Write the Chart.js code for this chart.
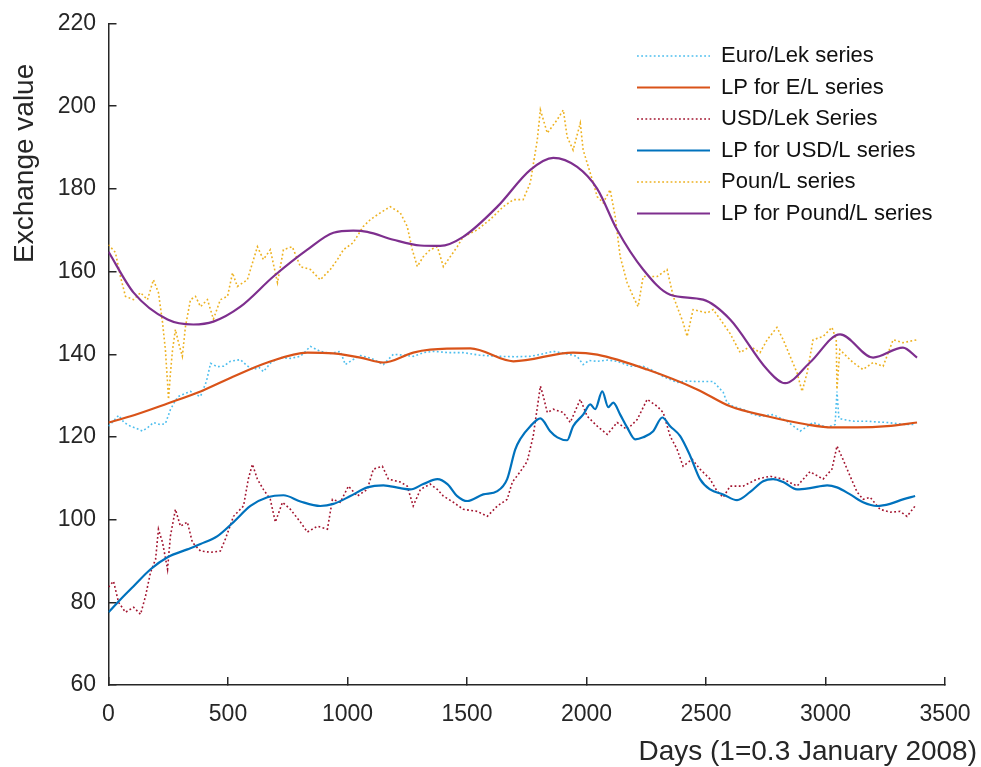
<!DOCTYPE html>
<html>
<head>
<meta charset="utf-8">
<title>Exchange value</title>
<script src="https://cdn.jsdelivr.net/npm/chart.js@4.4.1/dist/chart.umd.min.js"></script>
<style>
  html, body { margin: 0; padding: 0; background: #fff; }
  canvas { display: block; }
</style>
</head>
<body>
<canvas id="grafico" width="981" height="767"></canvas>
<script>
// Euro / Lek, daily series
const euroDays = [
  0, 20, 42, 65, 92, 120, 142, 165, 188, 215,
  238, 259, 280, 293, 320, 343, 365, 385, 410, 427,
  455, 481, 510, 552, 580, 606, 630, 648, 680, 719,
  760, 803, 845, 886, 930, 970, 991, 1020, 1054, 1100,
  1150, 1192, 1230, 1275, 1320, 1359, 1420, 1484, 1550, 1627,
  1700, 1765, 1810, 1861, 1910, 1961, 1986, 2010, 2045, 2090,
  2128, 2183, 2237, 2280, 2321, 2379, 2420, 2463, 2530, 2572,
  2588, 2613, 2655, 2690, 2726, 2781, 2839, 2894, 2948, 3007,
  3040, 3048, 3056, 3073, 3120, 3174, 3220, 3258, 3300, 3341,
  3375
];
const euroRate = [
  122.6, 123.8, 125.2, 123.5, 122.6, 122.0, 121.4, 122.3, 123.5, 123.0,
  123.2, 126.6, 128.8, 129.8, 130.5, 131.0, 130.2, 129.8, 133.5, 137.8,
  137.0, 137.1, 138.3, 138.7, 137.2, 136.3, 136.8, 135.8, 138.0, 139.2,
  139.0, 139.5, 141.9, 140.7, 140.2, 140.7, 137.5, 138.6, 139.7, 139.0,
  137.5, 140.0, 139.8, 139.5, 140.4, 140.7, 140.4, 140.4, 139.8, 139.5,
  139.4, 139.5, 140.0, 140.7, 140.2, 139.5, 137.5, 138.5, 138.3, 138.6,
  138.3, 137.1, 137.1, 136.0, 134.6, 133.2, 133.5, 133.4, 133.4, 130.8,
  128.3, 127.4, 126.7, 125.6, 125.0, 125.4, 123.8, 121.4, 123.5, 122.3,
  123.0, 131.0, 124.5, 124.2, 123.8, 123.8, 123.6, 123.5, 123.2, 123.0,
  123.0
];

// Euro / Lek, low-pass filtered
const euroLpDays = [0, 92, 247, 385, 523, 665, 832, 941, 1054, 1150, 1275, 1346, 1514,
  1694, 1944, 2045, 2254, 2463, 2601, 2756, 2923, 3032, 3132, 3258, 3383];
const euroLp = [123.5, 125.0, 128.1, 131.0, 134.6, 138.0, 140.4, 140.2, 139.2, 138.0, 140.4, 141.1, 141.4,
  138.3, 140.4, 139.9, 136.3, 131.5, 127.4, 125.0, 123.0, 122.3, 122.3, 122.6, 123.5];

// USD / Lek, daily series
const usdDays = [
  0, 21, 42, 71, 105, 134, 155, 176, 197, 209,
  226, 247, 259, 280, 301, 330, 351, 385, 427, 468,
  489, 523, 565, 585, 602, 623, 648, 677, 698, 728,
  761, 803, 832, 874, 916, 937, 970, 1004, 1041, 1083,
  1108, 1146, 1171, 1221, 1250, 1275, 1305, 1346, 1376, 1401,
  1443, 1484, 1543, 1585, 1627, 1668, 1690, 1723, 1752, 1777,
  1807, 1819, 1836, 1861, 1903, 1932, 1974, 2003, 2045, 2087,
  2128, 2170, 2212, 2254, 2296, 2321, 2350, 2379, 2404, 2442,
  2475, 2517, 2546, 2572, 2601, 2655, 2714, 2768, 2823, 2881,
  2935, 2990, 3027, 3048, 3073, 3103, 3132, 3157, 3187, 3228,
  3270, 3312, 3341, 3375
];
const usdRate = [
  83.7, 85.1, 80.0, 77.6, 78.8, 77.1, 81.5, 87.3, 90.4, 97.7,
  94.5, 88.0, 96.0, 102.5, 98.4, 99.4, 94.5, 92.4, 92.1, 92.4,
  95.3, 100.8, 103.3, 109.8, 113.4, 109.8, 107.3, 104.9, 99.4, 104.2,
  102.5, 99.4, 97.0, 98.4, 97.7, 104.9, 104.2, 108.1, 105.7, 107.3,
  112.2, 112.9, 109.8, 109.1, 108.1, 103.3, 107.3, 108.6, 107.3, 105.7,
  104.2, 102.5, 102.0, 100.8, 103.3, 104.9, 109.1, 111.6, 114.1, 120.2,
  132.3, 129.9, 125.9, 126.7, 125.9, 123.5, 129.1, 125.0, 122.6, 120.6,
  123.5, 121.8, 124.2, 129.1, 127.4, 125.9, 120.2, 117.0, 112.9, 114.6,
  112.2, 109.8, 106.9, 105.4, 108.1, 108.1, 109.8, 110.5, 109.8, 108.1,
  111.6, 109.8, 112.2, 117.8, 114.6, 110.5, 106.7, 104.9, 105.4, 102.5,
  101.8, 102.0, 100.8, 103.3
];

// USD / Lek, low-pass filtered
const usdLpDays = [
  0, 50, 105, 176, 247, 330, 385, 456, 523, 594,
  665, 732, 803, 886, 941, 1012, 1083, 1150, 1221, 1263,
  1317, 1376, 1418, 1459, 1501, 1568, 1627, 1668, 1702, 1723,
  1765, 1807, 1848, 1878, 1919, 1944, 1986, 2016, 2036, 2066,
  2091, 2112, 2141, 2170, 2204, 2237, 2279, 2317, 2350, 2392,
  2434, 2475, 2517, 2572, 2630, 2685, 2739, 2781, 2823, 2881,
  2935, 3007, 3048, 3103, 3157, 3216, 3270, 3324, 3375
];
const usdLp = [
  77.6, 80.7, 83.9, 88.0, 90.9, 92.8, 94.1, 96.0, 99.4, 103.3,
  105.4, 105.9, 104.4, 103.3, 103.8, 105.7, 107.8, 108.3, 107.6, 107.3,
  108.6, 109.8, 108.6, 105.7, 104.5, 106.1, 106.9, 109.8, 117.0, 119.5,
  122.6, 124.5, 121.4, 119.9, 119.2, 122.6, 125.4, 127.9, 126.7, 131.0,
  127.2, 128.3, 125.4, 122.3, 119.4, 119.9, 121.4, 124.7, 122.6, 120.2,
  115.4, 109.8, 107.3, 106.1, 104.7, 106.7, 109.3, 109.8, 109.1, 107.3,
  107.6, 108.3, 107.8, 106.1, 104.2, 103.3, 103.8, 104.9, 105.7
];

// Pound / Lek, daily series
const poundDays = [
  0, 29, 50, 71, 105, 134, 163, 188, 209, 226,
  238, 247, 251, 260, 268, 280, 293, 309, 322, 343,
  364, 385, 414, 439, 468, 498, 519, 539, 581, 623,
  648, 677, 707, 732, 769, 803, 845, 886, 928, 958,
  983, 1024, 1066, 1096, 1137, 1179, 1221, 1250, 1271, 1292,
  1317, 1346, 1376, 1401, 1459, 1484, 1543, 1597, 1652, 1694,
  1735, 1765, 1794, 1807, 1836, 1877, 1903, 1919, 1944, 1974,
  1986, 2016, 2045, 2070, 2099, 2120, 2141, 2170, 2195, 2216,
  2237, 2296, 2337, 2363, 2404, 2421, 2446, 2505, 2530, 2559,
  2601, 2643, 2685, 2726, 2756, 2797, 2823, 2852, 2881, 2902,
  2923, 2948, 2990, 3027, 3045, 3048, 3060, 3115, 3157, 3199,
  3241, 3283, 3324, 3383
];
const poundRate = [
  166.5, 164.6, 158.8, 154.0, 153.2, 154.9, 153.2, 158.0, 154.9, 147.7,
  141.1, 133.2, 129.1, 136.0, 141.1, 146.0, 142.8, 139.5, 146.7, 153.2,
  154.0, 151.5, 153.2, 148.5, 153.2, 154.0, 159.7, 156.4, 158.0, 166.0,
  162.9, 165.3, 157.3, 165.3, 166.0, 161.2, 160.5, 158.0, 160.5, 162.9,
  165.3, 167.0, 170.9, 172.6, 174.2, 175.7, 174.2, 170.9, 165.3, 161.2,
  163.6, 165.3, 166.0, 161.2, 166.0, 168.4, 170.1, 172.6, 175.7, 177.4,
  177.4, 181.5, 191.8, 199.1, 193.5, 196.7, 199.1, 192.6, 189.4, 195.9,
  189.4, 183.8, 178.1, 176.6, 179.8, 173.3, 163.6, 157.3, 154.0, 151.5,
  158.8, 158.8, 160.5, 154.0, 147.7, 144.3, 150.8, 150.0, 150.8, 148.5,
  145.0, 140.4, 141.9, 140.4, 143.5, 146.5, 143.5, 139.5, 135.5, 131.0,
  135.5, 143.5, 144.3, 146.5, 143.5, 131.5, 141.1, 138.0, 136.3, 138.0,
  137.1, 143.5, 142.8, 143.5
];

// Pound / Lek, low-pass filtered
const poundLpDays = [0, 105, 247, 355, 439, 552, 690, 832, 941, 1024, 1083, 1192, 1305, 1388, 1484, 1627,
  1765, 1861, 1961, 2045, 2128, 2237, 2350, 2488, 2601, 2756, 2831, 2935, 3061, 3199, 3324, 3383];
const poundLp = [164.8, 154.9, 148.4, 147.2, 147.9, 151.5, 158.8, 165.3, 169.4, 169.9, 169.6, 167.7, 166.3, 166.2, 168.4, 175.7,
  184.6, 187.5, 185.3, 180.0, 170.1, 160.5, 154.4, 153.2, 148.4, 136.3, 133.0, 138.0, 144.8, 139.2, 141.6, 139.2];

const xTicks = { min: 0, max: 3500, step: 500 };
const yTicks = { min: 60, max: 220, step: 20 };

const FONT = '"Liberation Sans", Arial, Helvetica, sans-serif';
const AXIS = '#262626';

function puntos(xs, ys) {
    return xs.map((x, i) => ({ x: x, y: ys[i] }));
}

// serie cruda: linea punteada fina; filtrada: linea continua
function serie(label, xs, ys, color, punteada, orden) {
    return {
        label: label,
        data: puntos(xs, ys),
        borderColor: color,
        borderWidth: punteada ? 1.6 : 2.2,
        borderDash: punteada ? [1.8, 2.4] : [],
        pointRadius: 0,
        fill: false,
        tension: 0,
        cubicInterpolationMode: punteada ? 'default' : 'monotone',
        order: orden
    };
}

const datasets = [
    serie('Euro/Lek series', euroDays, euroRate, '#4DBEEE', true, 5),
    serie('LP for E/L series', euroLpDays, euroLp, '#D95319', false, 4),
    serie('USD/Lek Series', usdDays, usdRate, '#A2142F', true, 3),
    serie('LP for USD/L series', usdLpDays, usdLp, '#0072BD', false, 2),
    serie('Poun/L series', poundDays, poundRate, '#EDB120', true, 1),
    serie('LP for Pound/L series', poundLpDays, poundLp, '#7E2F8E', false, 0)
];

// leyenda dentro del area y rotulos de los ejes
const rotulos = {
    id: 'rotulos',
    afterDraw(chart) {
        const ctx = chart.ctx;
        ctx.save();
        chart.data.datasets.forEach((ds, i) => {
            const y = 56 + i * 31.5;
            ctx.strokeStyle = ds.borderColor;
            ctx.lineWidth = ds.borderWidth;
            ctx.setLineDash(ds.borderDash);
            ctx.beginPath();
            ctx.moveTo(637, y);
            ctx.lineTo(710, y);
            ctx.stroke();
            ctx.setLineDash([]);
            ctx.fillStyle = '#111';
            ctx.font = '22px ' + FONT;
            ctx.textAlign = 'left';
            ctx.textBaseline = 'middle';
            ctx.fillText(ds.label, 721, y);
        });

        ctx.fillStyle = AXIS;
        ctx.font = '28px ' + FONT;
        ctx.textBaseline = 'alphabetic';
        ctx.textAlign = 'right';
        ctx.fillText('Days (1=0.3 January 2008)', 977, 760);

        ctx.translate(33, 263);
        ctx.rotate(-Math.PI / 2);
        ctx.textAlign = 'left';
        ctx.fillText('Exchange value', 0, 0);
        ctx.restore();
    }
};

const ctx = document.getElementById('grafico').getContext('2d');

new Chart(ctx, {
    type: 'line',
    data: { datasets: datasets },
    options: {
        responsive: false,
        animation: false,
        devicePixelRatio: 1,
        layout: { padding: { top: 23.5, right: 36, bottom: 0, left: 0 } },
        plugins: {
            legend: { display: false },
            tooltip: { enabled: false }
        },
        scales: {
            x: {
                type: 'linear',
                min: xTicks.min,
                max: xTicks.max,
                ticks: {
                    stepSize: xTicks.step,
                    padding: 24,
                    color: AXIS,
                    font: { family: FONT, size: 23 },
                    maxRotation: 0,
                    callback: v => String(v)
                },
                grid: { drawOnChartArea: false, tickLength: -8, color: AXIS, lineWidth: 1.5 },
                border: { color: AXIS, width: 1.5 },
                afterFit: s => {
                    s.height = 82;
                    s.paddingLeft = 0;
                    s.paddingRight = 0;
                }
            },
            y: {
                min: yTicks.min,
                max: yTicks.max,
                ticks: {
                    stepSize: yTicks.step,
                    padding: 20.5,
                    color: AXIS,
                    font: { family: FONT, size: 23 },
                    callback: v => String(v)
                },
                grid: { drawOnChartArea: false, tickLength: -8, color: AXIS, lineWidth: 1.5 },
                border: { color: AXIS, width: 1.5 },
                afterFit: s => {
                    s.width = 108.5;
                    s.paddingTop = 0;
                    s.paddingBottom = 0;
                }
            }
        }
    },
    plugins: [rotulos]
});
</script>
</body>
</html>
